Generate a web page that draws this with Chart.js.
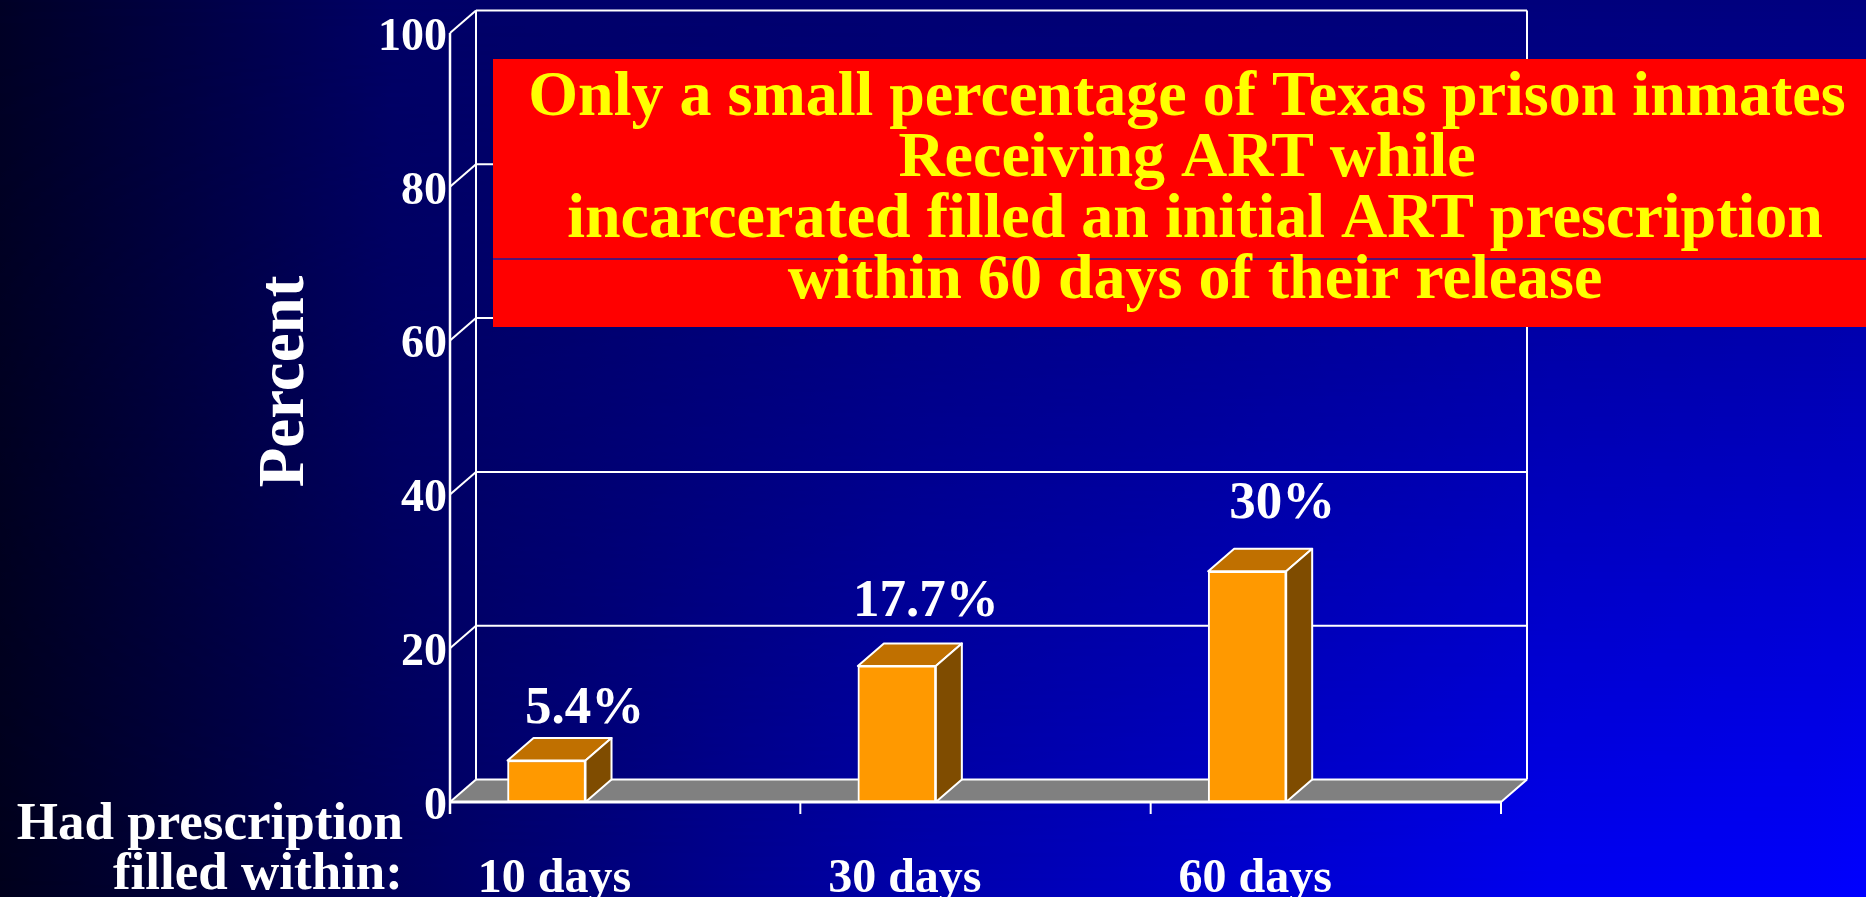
<!DOCTYPE html>
<html>
<head>
<meta charset="utf-8">
<title>ART prescriptions filled after release</title>
<script src="https://cdn.jsdelivr.net/npm/chart.js@4.4.1/dist/chart.umd.min.js"></script>
<style>
  html, body { margin: 0; padding: 0; background: #000020; overflow: hidden; }
  #wrap { width: 1866px; height: 897px; position: relative; }
  canvas { display: block; }
</style>
</head>
<body>
<div id="wrap"><canvas id="chart" width="1866" height="897"></canvas></div>
<script>
// ---- data ----
const categories = ['10 days', '30 days', '60 days'];
const percentFilled = [5.4, 17.7, 30];
const yTicks = [0, 20, 40, 60, 80, 100];
const yTitle = 'Percent';
const categoryNote = ['Had prescription', 'filled within:'];
const calloutLines = [
  'Only a small percentage of Texas prison inmates',
  'Receiving ART while',
  ' incarcerated filled an initial ART prescription',
  'within 60 days of their release'
];

// ---- styling / layout ----
const SERIF = '"Liberation Serif", "Times New Roman", Times, serif';
const DX = 26;          // depth offset of the 3D box, px
const DY = 22.5;
const X_MIN = -0.2755;  // linear x range so that each category spans one unit
const LABEL_SHIFT = [38, 29, 35];   // value label offset right of the bar centre, px
const LABEL_RISE = [37, 50, 53];    // value label baseline above the bar top, px
const COLORS = {
  front: '#FF9900', top: '#C07000', side: '#7F4C00',
  floor: '#808080', edge: '#FFFFFF', callout: '#FF0000', calloutText: '#FFFF00'
};

let bgCache = null;
function paintBackground(ctx, W, H) {
  if (!bgCache) {
    const off = document.createElement('canvas');
    off.width = W; off.height = H;
    const o = off.getContext('2d');
    // upper edge colour run
    const topRow = o.createLinearGradient(0, 0, W, 0);
    topRow.addColorStop(0, '#000026');
    topRow.addColorStop(0.21, '#000066');
    topRow.addColorStop(0.5, '#000072');
    topRow.addColorStop(1, '#000080');
    o.fillStyle = topRow;
    o.fillRect(0, 0, W, H);
    // lower edge colour run, faded in from the top
    const low = document.createElement('canvas');
    low.width = W; low.height = H;
    const l = low.getContext('2d');
    const botRow = l.createLinearGradient(0, 0, W, 0);
    botRow.addColorStop(0, '#00001c');
    botRow.addColorStop(0.24, '#000064');
    botRow.addColorStop(0.48, '#0000A8');
    botRow.addColorStop(0.83, '#0000F0');
    botRow.addColorStop(1, '#0000FF');
    l.fillStyle = botRow;
    l.fillRect(0, 0, W, H);
    l.globalCompositeOperation = 'destination-in';
    const mask = l.createLinearGradient(0, 0, 0, H);
    mask.addColorStop(0, 'rgba(0,0,0,0)');
    mask.addColorStop(1, 'rgba(0,0,0,1)');
    l.fillStyle = mask;
    l.fillRect(0, 0, W, H);
    o.drawImage(low, 0, 0);
    bgCache = off;
  }
  ctx.drawImage(bgCache, 0, 0);
}

function seg(ctx, x1, y1, x2, y2) {
  ctx.beginPath();
  ctx.moveTo(x1, y1);
  ctx.lineTo(x2, y2);
  ctx.stroke();
}

const scene3d = {
  id: 'scene3d',
  beforeDraw(chart) {
    paintBackground(chart.ctx, chart.width, chart.height);
  },
  beforeDatasetsDraw(chart) {
    const { ctx, chartArea: a, scales: { x, y } } = chart;
    const y0 = y.getPixelForValue(0);
    const yTop = y.getPixelForValue(100);
    ctx.save();
    // floor
    ctx.fillStyle = COLORS.floor;
    ctx.beginPath();
    ctx.moveTo(a.left, y0);
    ctx.lineTo(a.left + DX, y0 - DY);
    ctx.lineTo(a.right + DX, y0 - DY);
    ctx.lineTo(a.right, y0);
    ctx.closePath();
    ctx.fill();
    // back-wall grid lines and side-wall diagonals
    ctx.strokeStyle = COLORS.edge;
    ctx.lineWidth = 2;
    yTicks.forEach(v => {
      const py = y.getPixelForValue(v);
      seg(ctx, a.left, py, a.left + DX, py - DY);
      seg(ctx, a.left + DX, py - DY, a.right + DX, py - DY);
    });
    // back wall verticals
    seg(ctx, a.left + DX, yTop - DY, a.left + DX, y0 - DY);
    seg(ctx, a.right + DX, yTop - DY, a.right + DX, y0 - DY);
    // floor right edge
    seg(ctx, a.right, y0, a.right + DX, y0 - DY);
    // category boundary ticks
    for (let k = 1; k <= categories.length; k++) {
      const bx = x.getPixelForValue(X_MIN + k);
      seg(ctx, bx, y0, bx, y0 + 12);
    }
    // front value axis
    ctx.lineWidth = 2.5;
    seg(ctx, a.left, yTop, a.left, y0 + 12);
    // front floor edge
    ctx.lineWidth = 3;
    seg(ctx, a.left, y0, a.right, y0);
    ctx.restore();
  },
  afterDatasetsDraw(chart) {
    const { ctx } = chart;
    const meta = chart.getDatasetMeta(0);
    ctx.save();
    ctx.lineJoin = 'round';
    meta.data.forEach((bar, i) => {
      const { x: cx, y: top, base, width } = bar.getProps(['x', 'y', 'base', 'width'], true);
      const l = cx - width / 2;
      const r = cx + width / 2;
      // top face
      ctx.beginPath();
      ctx.moveTo(l, top);
      ctx.lineTo(l + DX, top - DY);
      ctx.lineTo(r + DX, top - DY);
      ctx.lineTo(r, top);
      ctx.closePath();
      ctx.fillStyle = COLORS.top;
      ctx.fill();
      ctx.strokeStyle = COLORS.edge;
      ctx.lineWidth = 2;
      ctx.stroke();
      // side face
      ctx.beginPath();
      ctx.moveTo(r, top);
      ctx.lineTo(r + DX, top - DY);
      ctx.lineTo(r + DX, base - DY);
      ctx.lineTo(r, base);
      ctx.closePath();
      ctx.fillStyle = COLORS.side;
      ctx.fill();
      ctx.stroke();
      // value label
      ctx.fillStyle = '#FFFFFF';
      ctx.font = 'bold 53px ' + SERIF;
      ctx.textAlign = 'center';
      ctx.textBaseline = 'alphabetic';
      ctx.fillText(percentFilled[i] + '%', cx + LABEL_SHIFT[i], top - LABEL_RISE[i]);
    });
    ctx.restore();
  },
  afterDraw(chart) {
    const { ctx } = chart;
    ctx.save();
    // axis title
    ctx.fillStyle = '#FFFFFF';
    ctx.font = 'bold 65px ' + SERIF;
    ctx.textAlign = 'center';
    ctx.textBaseline = 'alphabetic';
    ctx.translate(303, 381.5);
    ctx.rotate(-Math.PI / 2);
    ctx.fillText(yTitle, 0, 0);
    ctx.setTransform(1, 0, 0, 1, 0, 0);
    // category note
    ctx.font = 'bold 53px ' + SERIF;
    ctx.textAlign = 'right';
    ctx.fillText(categoryNote[0], 403, 839);
    ctx.fillText(categoryNote[1], 403, 889);
    // callout box
    ctx.fillStyle = COLORS.callout;
    ctx.fillRect(493, 59, chart.width - 493, 268);
    ctx.strokeStyle = '#1c1c9c';
    ctx.lineWidth = 1.5;
    seg(ctx, 493, 259, chart.width, 259);
    ctx.fillStyle = COLORS.calloutText;
    ctx.font = 'bold 64px ' + SERIF;
    ctx.textAlign = 'center';
    const baselines = [115, 175.5, 237, 298];
    const centers = [1187, 1187, 1187, 1195];
    calloutLines.forEach((t, i) => ctx.fillText(t, centers[i], baselines[i]));
    ctx.restore();
  }
};

new Chart(document.getElementById('chart'), {
  type: 'bar',
  data: {
    datasets: [{
      data: categories.map((c, i) => ({ x: i, y: percentFilled[i] })),
      backgroundColor: COLORS.front,
      borderColor: COLORS.edge,
      borderWidth: 2,
      borderSkipped: false,
      barThickness: 78
    }]
  },
  options: {
    responsive: false,
    animation: false,
    devicePixelRatio: 1,
    layout: { padding: { left: 0, top: 33, right: 365, bottom: 0 } },
    plugins: { legend: { display: false }, tooltip: { enabled: false } },
    scales: {
      x: {
        type: 'linear',
        offset: false,
        min: X_MIN,
        max: X_MIN + categories.length,
        grid: { display: false, drawTicks: false, offset: false },
        border: { display: false },
        afterBuildTicks: s => { s.ticks = categories.map((c, i) => ({ value: i })); },
        ticks: {
          callback: (v, i) => categories[i],
          color: '#FFFFFF',
          font: { family: SERIF, size: 48, weight: 'bold' },
          padding: 49,
          labelOffset: 8,
          maxRotation: 0,
          autoSkip: false
        },
        afterFit: s => { s.height = 95; }
      },
      y: {
        min: 0,
        max: 100,
        grid: { display: false, drawTicks: false },
        border: { display: false },
        afterBuildTicks: s => { s.ticks = yTicks.map(v => ({ value: v })); },
        ticks: {
          color: '#FFFFFF',
          font: { family: SERIF, size: 46, weight: 'bold' },
          padding: 3,
          labelOffset: 5
        },
        afterFit: s => { s.width = 450; }
      }
    }
  },
  plugins: [scene3d]
});
</script>
</body>
</html>
